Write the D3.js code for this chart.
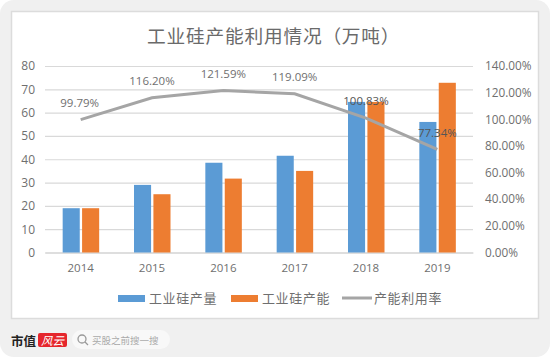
<!DOCTYPE html>
<html><head><meta charset="utf-8">
<script src="https://cdn.jsdelivr.net/npm/d3@7"></script>
<style>html,body{margin:0;padding:0;background:#fff}svg{display:block}</style>
</head><body><svg id="c" width="550" height="357"></svg>
<script>
const years=["2014","2015","2016","2017","2018","2019"];
const output=[19,29,38.5,41.5,64.6,56];
const capacity=[19,25,31.7,35,64.6,72.8];
const utilization=[99.79,116.20,121.59,119.09,100.83,77.34];
const utilLabels=["99.79%","116.20%","121.59%","119.09%","100.83%","77.34%"];
const labelOffsets=[[-1,-17],[0,-17],[0,-17],[0,-17],[0,-17],[0,-16]];
const leftTicks=[0,10,20,30,40,50,60,70,80];
const rightTicks=[0,20,40,60,80,100,120,140];
const title="工业硅产能利用情况（万吨）";
const legendNames=["工业硅产量","工业硅产能","产能利用率"];
const BLUE="#5b9bd5",ORANGE="#ed7d31",GRAY="#a5a5a5",TXT="#6f6f6f";
const FONT="'Noto Sans CJK SC','Open Sans',sans-serif";
const svg=d3.select("#c").style("font-family",FONT);
svg.append("rect").attr("width",550).attr("height",357).attr("rx",14).attr("fill","#f0f0f0");
svg.append("rect").attr("x",11.5).attr("y",11.5).attr("width",527).attr("height",307).attr("fill","#fff").attr("stroke","#dcdcdc").attr("stroke-width",1.5);
svg.append("text").attr("x",147).attr("y",43).attr("font-size",18.7).attr("letter-spacing",.8).attr("fill","#6a6a6a").text(title);
const x=d3.scaleBand().domain(years).range([45,473]);
const yL=d3.scaleLinear().domain([0,80]).range([252.5,66]);
const yR=d3.scaleLinear().domain([0,140]).range([252.5,66]);
const inner=d3.scaleBand().domain([0,1]).range([0,36.5]).paddingInner(0.12);
const grid=svg.append("g").call(d3.axisLeft(yL).tickValues(leftTicks).tickSize(-428).tickPadding(10).tickFormat(d3.format("d"))).attr("transform","translate(45,0)");
grid.select(".domain").remove();
grid.selectAll("line").attr("stroke","#d9d9d9").attr("stroke-width",1.2);
grid.selectAll("text").attr("fill",TXT).attr("font-size",12).attr("font-family","'Open Sans',sans-serif");
const rAx=svg.append("g").attr("transform","translate(473,0)").call(d3.axisRight(yR).tickValues(rightTicks).tickSize(0).tickPadding(12).tickFormat(d=>d3.format(".2f")(d)+"%"));
rAx.select(".domain").remove();
rAx.selectAll("text").attr("fill",TXT).attr("font-size",11.8).attr("font-family","'Open Sans',sans-serif");
const xAx=svg.append("g").attr("transform","translate(0,252.5)").call(d3.axisBottom(x).tickSize(0).tickPadding(11));
xAx.select(".domain").attr("stroke","#d0d0d0");
xAx.selectAll("text").attr("fill",TXT).attr("font-size",11.5).attr("font-family","'Open Sans',sans-serif");
const bw=inner.bandwidth(),off=x.bandwidth()/2-18;
[[output,BLUE,0],[capacity,ORANGE,1]].forEach(([vals,col,i])=>{
 svg.append("g").selectAll("rect").data(vals).join("rect")
  .attr("x",(d,k)=>x(years[k])+off+inner(i)).attr("width",bw)
  .attr("y",d=>yL(d)).attr("height",d=>yL(0)-yL(d)).attr("fill",col);
});
const cx=y=>x(y)+x.bandwidth()/2;
svg.append("path").attr("fill","none").attr("stroke",GRAY).attr("stroke-width",3)
 .attr("d",d3.line().x((d,i)=>cx(years[i])).y(d=>yR(d))(utilization));
svg.append("g").selectAll("text").data(utilLabels).join("text")
 .attr("x",(d,i)=>cx(years[i])+labelOffsets[i][0]).attr("y",(d,i)=>yR(utilization[i])+labelOffsets[i][1]+4)
 .attr("text-anchor","middle").attr("font-size",11.5).attr("font-family","'Open Sans',sans-serif").attr("fill",(d,i)=>i>=4?"#555":TXT).text(d=>d);
const lg=svg.append("g").attr("font-size",13).attr("fill",TXT);
[[118,BLUE,149],[231,ORANGE,262]].forEach(([lx,col,tx],i)=>{
 lg.append("rect").attr("x",lx).attr("y",295).attr("width",27).attr("height",7).attr("fill",col);
 lg.append("text").attr("x",tx).attr("y",303).attr("letter-spacing",.6).text(legendNames[i]);
});
lg.append("line").attr("x1",342).attr("x2",372).attr("y1",298).attr("y2",298).attr("stroke",GRAY).attr("stroke-width",3);
lg.append("text").attr("x",374).attr("y",303).attr("letter-spacing",.6).text(legendNames[2]);
svg.append("text").attr("x",11).attr("y",346).attr("font-size",12.5).attr("font-weight",700).attr("fill","#222").attr("font-family","'Noto Sans CJK SC',serif").text("市值");
svg.append("rect").attr("x",38).attr("y",333).attr("width",29).attr("height",14).attr("rx",2).attr("fill","#e5262c");
svg.append("text").attr("x",52.5).attr("y",345).attr("text-anchor","middle").attr("font-size",11.5).attr("font-style","italic").attr("fill","#fff").text("风云");
svg.append("rect").attr("x",72).attr("y",330).attr("width",98).attr("height",19).attr("rx",9.5).attr("fill","#f8f8f8");
svg.append("circle").attr("cx",82).attr("cy",339).attr("r",4).attr("fill","none").attr("stroke","#999").attr("stroke-width",1.3);
svg.append("line").attr("x1",85).attr("y1",342).attr("x2",88).attr("y2",345).attr("stroke","#999").attr("stroke-width",1.3);
svg.append("text").attr("x",92).attr("y",344).attr("font-size",9.5).attr("fill","#aaa").text("买股之前搜一搜");
</script></body></html>
